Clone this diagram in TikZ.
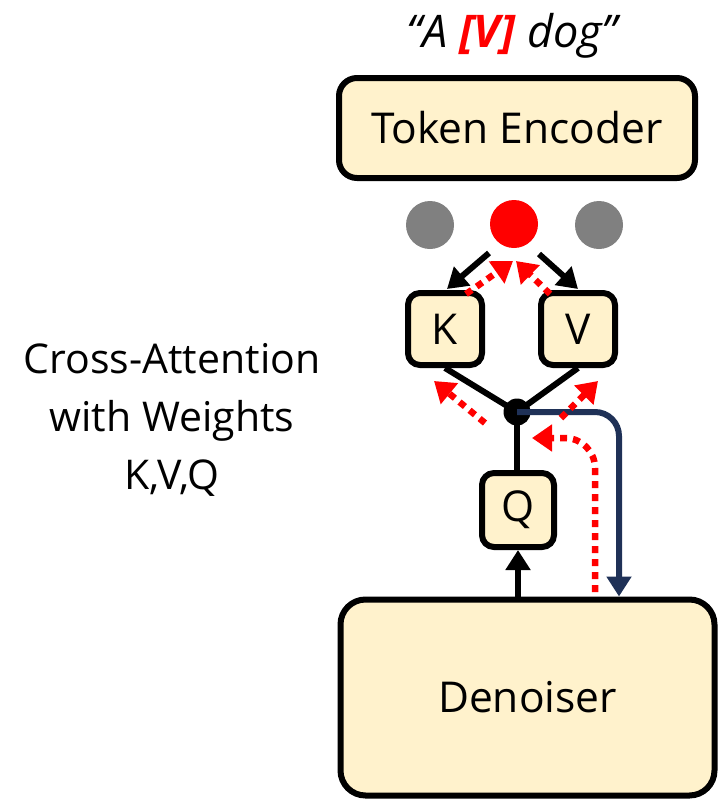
\documentclass[tikz,border=0pt]{standalone}
\usepackage{fontspec}
\setmainfont{Open Sans}
\usetikzlibrary{arrows.meta}
\definecolor{cream}{HTML}{FFF2CC}
\definecolor{navy}{HTML}{1F3157}
\definecolor{tokgray}{HTML}{808080}
\begin{document}
\begin{tikzpicture}[x=1pt,y=-1pt,
  blockbox/.style={draw=black, line width=6pt, fill=cream, rounded corners=18pt,
    inner sep=0pt, font=\fontsize{42.5}{50}\selectfont},
  smallbox/.style={blockbox, rounded corners=12pt},
  flow/.style={line width=6pt, -{Triangle[length=20pt,width=24pt]}},
  grad/.style={red, line width=6.5pt, dash pattern=on 7pt off 6pt,
    -{Triangle[length=20pt,width=26pt]}},
  token/.style={circle, inner sep=0pt, minimum size=48pt},
  label/.style={font=\fontsize{41}{58}\selectfont, align=center}]
\useasboundingbox (0,0) rectangle (718,801);

% caption prompt
\node[font=\fontsize{45}{52}\selectfont\itshape] (prompt) at (512,36)
  {``A {\color{red}\bfseries[V]} dog''};

% blocks
\node[blockbox, minimum width=356pt, minimum height=100pt] (enc) at (517,128) {Token Encoder};
\node[blockbox, rounded corners=25pt, minimum width=374pt, minimum height=196pt] (den) at (527.5,697.5) {Denoiser};
\node[smallbox, minimum width=74pt, minimum height=72pt] (K) at (445,329) {K};
\node[smallbox, minimum width=74pt, minimum height=72pt] (V) at (578,329) {V};
\node[smallbox, minimum width=72pt, minimum height=74pt] (Q) at (518,510) {Q};

% token embeddings
\node[token, fill=tokgray] (t1) at (430,225) {};
\node[token, fill=red] (t2) at (514,224) {};
\node[token, fill=tokgray] (t3) at (599,225) {};

% structure
\draw[line width=6pt] (K.south) -- (517,412) -- (V.south);
\draw[line width=6pt] (517,412 |- Q.north) -- (517,412);

% junction of the attention weights
\node[circle, fill=black, inner sep=0pt, minimum size=27pt] (J) at (517,412) {};

% side label
\node[label] (side) at (172,420) {Cross-Attention\\with Weights\\K,V,Q};

\draw[flow] (den.north -| Q.south) -- (Q.south);
\coordinate (k1) at (489,253);
\coordinate (k2) at (447,289);
\coordinate (v1) at (539,254);
\coordinate (v2) at (578,289);
\draw[flow] (k1) -- (k2);
\draw[flow] (v1) -- (v2);

% forward pass from the junction back into the denoiser
\coordinate (nv) at (619,412);
\draw[navy, flow, rounded corners=24pt] (J.center) -- (nv) -- (nv |- den.north);

% gradient flow
\coordinate (g0) at (595,592);
\coordinate (g1) at (595,438);
\coordinate (g2) at (532,438);
\draw[grad, rounded corners=30pt] (g0) -- (g1) -- (g2);
\coordinate (gl1) at (485,423);
\coordinate (gl2) at (434,381);
\coordinate (gr1) at (561,418);
\coordinate (gr2) at (598,381);
\draw[grad] (gl1) -- (gl2);
\draw[grad] (gr1) -- (gr2);
\coordinate (gk1) at (466,294);
\coordinate (gk2) at (513,261);
\coordinate (gv1) at (550,294);
\coordinate (gv2) at (516,261);
\draw[grad] (gk1) -- (gk2);
\draw[grad] (gv1) -- (gv2);
\end{tikzpicture}
\end{document}
